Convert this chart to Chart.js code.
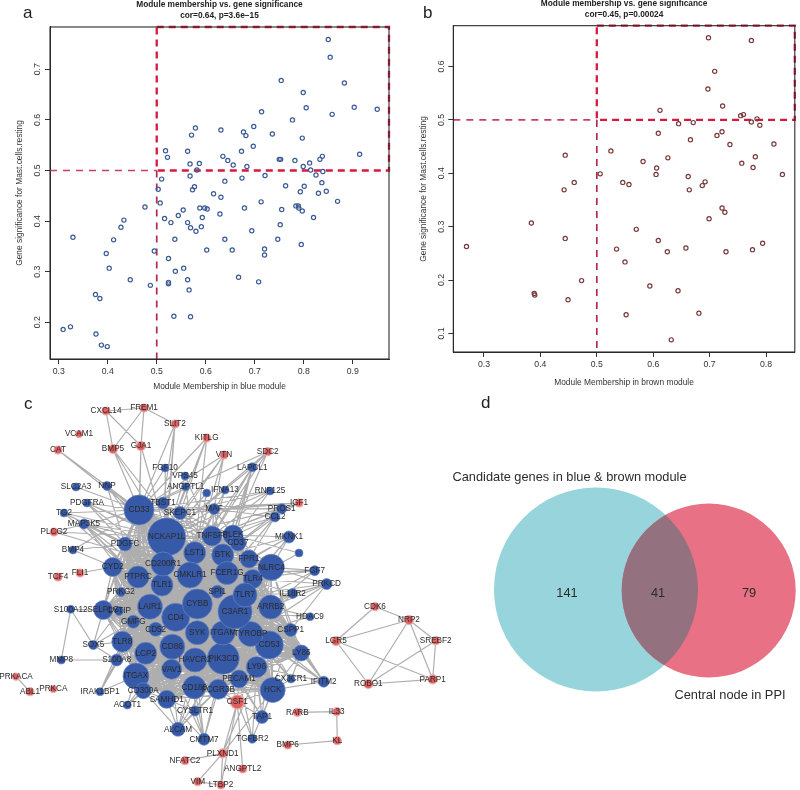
<!DOCTYPE html>
<html lang="en">

<head>
  <meta charset="UTF-8">
  <title>Module membership and PPI network</title>
  <script src="https://cdn.jsdelivr.net/npm/chart.js"></script>
  <style>
    html, body { margin: 0; padding: 0; background: #fff; overflow: hidden; }
    body { width: 800px; height: 790px; position: relative; font-family: "Liberation Sans", Arial, sans-serif; }
    canvas { position: absolute; }
    #chart-a { left: 0; top: 0; }
    #chart-b { left: 400px; top: -1px; }
    #chart-c { left: 0; top: 395px; }
    #chart-d { left: 450px; top: 390px; }
    .letter { position: absolute; font-size: 17px; line-height: 20px; color: #222; }
  </style>
</head>

<body>
  <canvas id="chart-d" width="350" height="340"></canvas>
  <canvas id="chart-c" width="470" height="395"></canvas>
  <canvas id="chart-a" width="400" height="395"></canvas>
  <canvas id="chart-b" width="400" height="396"></canvas>
  <span class="letter" style="left:23px;top:3px">a</span>
  <span class="letter" style="left:423px;top:3px">b</span>
  <span class="letter" style="left:24px;top:394px">c</span>
  <span class="letter" style="left:481px;top:393px">d</span>

  <script>
    // panel a: blue module
    const blueX = [.850,.854,.754,.883,.799,.903,.805,.950,.714,.858,.777,.698,.579,.631,.677,.571,.682,.736,.797,.697,
      .518,.563,.673,.522,.635,.645,.750,.753,.782,.838,.833,.914,.812,.568,.587,.656,.684,.799,.582,.814,
      .839,.568,.721,.825,.510,.674,.639,.837,.577,.763,.801,.573,.503,.793,.830,.846,.616,
      .631,.507,.476,.588,.598,.554,.603,.629,.679,.713,.869,.784,.789,.790,.797,.755,.544,.516,.529,.433,
      .563,.593,.591,.569,.580,.427,.820,.752,.694,.329,.412,.537,.639,.747,.795,.720,.720,.602,.654,.495,
      .397,.524,.555,.538,.403,.563,.667,.708,.446,.524,.524,.487,.566,.375,.384,.535,.569,.324,.309,.376,.387,.399];
    const blueY = [.759,.724,.678,.673,.654,.625,.624,.621,.616,.611,.600,.587,.584,.580,.576,.570,.569,.572,.564,.548,
      .539,.538,.538,.526,.528,.520,.522,.522,.520,.528,.522,.532,.515,.513,.514,.511,.508,.508,.501,.501,
      .498,.489,.490,.491,.483,.485,.479,.476,.468,.470,.469,.462,.463,.458,.455,.459,.454,
      .447,.436,.428,.426,.426,.422,.424,.414,.426,.438,.439,.430,.430,.426,.420,.423,.411,.405,.397,.402,
      .397,.407,.389,.387,.380,.388,.407,.393,.381,.368,.363,.364,.364,.364,.354,.345,.333,.343,.343,.341,
      .336,.326,.307,.301,.307,.284,.289,.280,.284,.279,.276,.273,.264,.255,.247,.212,.211,.191,.186,.177,.155,.152];
    const blueXLim = [.2822, .974];
    const blueYLim = [.1275, .7836];

    // panel b: brown module
    const brownX = [.698,.774,.709,.697,.723,.612,.755,.760,.784,.774,.789,.645,.671,.609,.722,.713,.666,.736,.814,.444,
      .525,.582,.626,.781,.757,.777,.606,.605,.506,.662,.829,.460,.546,.557,.692,.687,.442,.664,
      .722,.727,.699,.384,.570,.444,.609,.269,.535,.625,.658,.729,.776,.794,.550,.473,.594,.644,.389,.390,.449,.552,.681,.632];
    const brownY = [.654,.649,.591,.558,.526,.518,.508,.510,.502,.496,.490,.493,.495,.475,.478,.471,.463,.454,.455,.434,
      .442,.422,.429,.431,.419,.411,.410,.398,.399,.394,.398,.383,.383,.379,.384,.377,.369,.369,
      .335,.327,.315,.307,.295,.278,.274,.263,.258,.253,.260,.253,.257,.269,.234,.199,.189,.180,.175,.172,.163,.135,.138,.088];
    const brownXLim = [.2456, .851];
    const brownYLim = [.0652, .6766];

    const cutoff = 0.5;

    // panel c: PPI network, layout units follow the figure
    const blueNodes = [
      ['CD33',139,510,15],['NCKAP1L',166.7,537,19],['LST1',194.7,552.7,11],['CMKLR1',190,575,13],['TNFSF8',212,536,10],
      ['PLEK',233,535,10],['CD37',238,543,8],['BTK',222.7,555,11],['FPR1',249,559,9],['FCER1G',227,573,11.5],
      ['TLR4',252.7,579,9.5],['NLRC4',271.3,567.3,13],['TLR1',162,585,11],['CD200R1',163,564,12],['PTPRC',138,577,11],
      ['CYD2',112.7,567,9.5],['PDGFC',125,544,7],['TBST1',163,503,6],['SKEPC1',180,513,6.5],['MAF',214,509,5.5],
      ['FGF10',165,468,4],['VPS45',185,476,4],['ANGPTL1',185.7,486.7,4],['_a',206.7,493,4],['IFNA13',225,490,4],
      ['SLC2A3',76,487,4],['NNP',107,486,4.5],['PDGFRA',87,503,4],['TG2',64,513,4],['MAP3K5',84,524,5],
      ['BMP4',73,550,4],['PRKG2',121,592,4.5],['LAPCL1',252.3,467.3,4.5],['RNF125',270,491,4],['PROS1',281.7,508.7,5],
      ['CCL2',275,517,5],['MKNK1',289,537,6],['_b',299,553,4],['FGF7',314.7,570.7,5],['PRKCD',326.7,584,5.5],
      ['IL18R2',292.7,593.5,5],['HDAC9',310,616.7,4],['ARRB2',270.7,607,12],['CSPP1',290.7,630,6.5],['CD53',269.3,645,14],
      ['LY86',301.3,653,8],['LY96',256.7,667,10.5],['PECAM1',239,679,9],['HCK',272.7,690,12.5],['CX3CR1',291,679,4],
      ['IFITM2',323.7,681.7,5.5],['TAP1',262,717,6.5],['TGFBR2',252.3,738.7,4.5],['S100A12',70.7,609.3,4],['SELPLG',103.3,610,9.5],
      ['CYTIP',119,611,4.5],['LAIR1',150,606.7,12.5],['GMFG',133.3,621.7,6.5],['CD4',175.7,617.3,14],['CYBB',197.3,604,15],
      ['CD52',155.7,629.3,7],['SYK',197.3,632.7,12],['TLR8',122.3,641.7,10.5],['CD86',172.3,646.7,12.5],['LCP2',145.7,653.3,11],
      ['HAVCR2',195,660,12],['PIK3CD',223.3,658.3,16],['ITGAM',223,633,12],['TYROBP',250.7,634,12.5],['C3AR1',235,611.7,17],
      ['TLR7',245,595,12],['SPI1',217.3,591.7,6.5],['VAV1',171.7,669.3,10],['ITGAX',136,676,13],['CD300A',143.3,690.7,8],
      ['SAMHD1',166.7,699.3,9],['ALCAM',178,729.3,7],['CYSLTR1',195,711,5],['CMTM7',204,739.3,6],['CD180',194.3,687.3,11.5],
      ['FCGR3B',218.3,689.3,10],['ACOT1',127.3,705,4],['IRAK1BP1',100,691.7,4],['S100A8',116.7,660,6],['SOX5',93.3,645,4.5],
      ['MMP8',61.3,660,4]
    ];
    const redNodes = [
      ['CXCL14',106,411,4],['FREM1',144,408,4],['SLIT2',175,424,4],['KITLG',206.7,438,4],['VTN',224,455,4],
      ['VCAM1',79,434,3.5],['CAT',58,450,4],['BMP5',113,449,4.5],['GJA1',141,446,4.5],['SDC2',267.7,451.7,4],
      ['IGF1',299,503,4],['PLCG2',54,532,4],['TCF4',58,577,4],['FLI1',80,573,4],['CSF1',237.3,702,7],
      ['RARB',297.3,712.3,4],['IL33',336.7,711.7,4],['KL',337.3,740.7,4],['BMP6',287.7,745,4],['PLXND1',222.7,753.3,4.5],
      ['NFATC2',185,760.7,4],['VIM',197.7,781.7,4],['LTBP2',221,785,4],['ANGPTL2',242.7,769,4],['CDK6',375,606.7,4],
      ['NRP2',409,620,4.5],['SREBF2',435.7,640.7,4],['LGR5',336,641,4.5],['ROBO1',368.3,684,4.5],['PARP1',432.7,679.3,4.5],
      ['PRKACA',16,676.7,3.5],['ABL1',30,691.7,4],['PRKCA',53.3,689,3.5]
    ];
    // genes in the dense core, every pair is joined
    const coreGenes = ['NCKAP1L','LST1','CMKLR1','TNFSF8','BTK','FCER1G','CD200R1','TLR1','PTPRC','CD33','LAIR1','GMFG',
      'CD4','CYBB','CD52','SYK','TLR8','CD86','LCP2','HAVCR2','PIK3CD','ITGAM','TYROBP','C3AR1','TLR7','SPI1','VAV1',
      'ITGAX','CD300A','SAMHD1','CD180','FCGR3B','LY96','PECAM1','HCK','CD53','ARRB2','NLRC4','FPR1','TLR4','PLEK',
      'PDGFC','CYD2','SELPLG','CYTIP','LY86','CSPP1'];
    // first gene of each row links to the others in the row
    const geneLinks = [
      ['CXCL14','FREM1','BMP5','GJA1'],['FREM1','BMP5','GJA1','SLIT2'],['BMP5','CD33','NCKAP1L','LST1'],['GJA1','CD33','NCKAP1L','PTPRC'],
      ['CAT','NCKAP1L','CD33'],['SLIT2','CD33','TBST1','NCKAP1L','CD200R1'],['KITLG','CD33','NCKAP1L','SKEPC1','LST1'],
      ['VTN','CD33','NCKAP1L','SKEPC1','MAF','LST1'],['SDC2','LAPCL1','CD33','BTK','TNFSF8','NCKAP1L'],
      ['LAPCL1','TNFSF8','BTK','LST1','PLEK','FCER1G','NCKAP1L'],['FGF10','CD33','NCKAP1L'],['VPS45','NCKAP1L','TNFSF8'],
      ['ANGPTL1','NCKAP1L','LST1','CD33'],['IFNA13','LST1','TNFSF8'],['_a','NCKAP1L','LST1'],
      ['RNF125','TNFSF8','CD33','SKEPC1','BTK','NCKAP1L'],['IGF1','PROS1','CCL2','TNFSF8','CD33','MAF','SKEPC1'],
      ['PROS1','CCL2','MAF','TNFSF8','BTK','CD33','NCKAP1L'],['CCL2','BTK','FPR1','TNFSF8','LST1','FCER1G','MAF'],
      ['MKNK1','FPR1','TLR4','NLRC4','BTK','PLEK','FCER1G'],['_b','PLEK','TLR4'],['FGF7','NLRC4','TLR4','FCER1G','ARRB2','C3AR1'],
      ['PRKCD','NLRC4','ARRB2','IL18R2','TLR4','C3AR1','TLR7','CSPP1','TYROBP'],['IL18R2','ARRB2','C3AR1','TLR7','TYROBP','FCER1G'],
      ['HDAC9','ARRB2','C3AR1','TYROBP'],['IFITM2','LY86','CD53','TYROBP','ARRB2','CSPP1','C3AR1','HCK','LY96'],
      ['CX3CR1','LY86','CD53','HCK','C3AR1','TYROBP'],['TAP1','CD53','LY96','PIK3CD','HCK','PECAM1','TYROBP'],
      ['CSF1','TAP1','TGFBR2','ANGPTL2','PLXND1','LTBP2','PECAM1','HCK','PIK3CD','LY96','FCGR3B','CD180'],
      ['TGFBR2','PECAM1','LY96','HCK'],['PLXND1','NFATC2','VIM','LTBP2','HCK','CD53'],['VIM','LTBP2'],
      ['CD33','SKEPC1','TBST1','MAP3K5','PDGFRA','NNP','SLC2A3','TG2','BMP4','PLCG2'],['NNP','NCKAP1L','PDGFC','LST1','CD200R1','CMKLR1'],
      ['PDGFRA','NCKAP1L','PDGFC','CD200R1','LST1'],['TG2','NCKAP1L','PTPRC','CMKLR1','CD200R1'],
      ['MAP3K5','NCKAP1L','PDGFC','PTPRC','CMKLR1','TLR1','LAIR1','CD4','CD200R1','LST1','SPI1'],['PLCG2','NCKAP1L','CD200R1'],
      ['BMP4','PDGFC','PTPRC'],['FLI1','CYD2'],['PRKG2','PTPRC','TLR1','LAIR1','CYD2','GMFG','CD4','CD200R1'],
      ['S100A12','MMP8','SELPLG','SOX5'],['SOX5','SELPLG','S100A8','TLR8','CYTIP','GMFG'],['MMP8','S100A8'],
      ['S100A8','IRAK1BP1','TLR8','LCP2','GMFG','CD4','CD86','LAIR1','CD52'],['IRAK1BP1','TLR8','ITGAX','LAIR1'],
      ['SELPLG','TLR8','GMFG','CD52','CD4','CD86','LCP2'],['ACOT1','CD300A','ITGAX','VAV1','CD86'],
      ['ALCAM','SAMHD1','CYSLTR1','CD180','FCGR3B','HAVCR2','VAV1','PIK3CD','CD300A'],['CYSLTR1','CD180','FCGR3B','SAMHD1','PIK3CD','HAVCR2'],
      ['CMTM7','CYSLTR1','SAMHD1','CD180','FCGR3B','HAVCR2','PIK3CD','VAV1'],['TBST1','NCKAP1L','LST1','CMKLR1','BTK','SKEPC1'],
      ['SKEPC1','NCKAP1L','LST1','TNFSF8','BTK','PLEK','CMKLR1'],['MAF','TNFSF8','BTK','PLEK','NCKAP1L','LST1','FPR1','FCER1G'],
      ['CDK6','NRP2','LGR5'],['NRP2','LGR5','SREBF2','ROBO1','PARP1'],['SREBF2','ROBO1','PARP1'],['LGR5','ROBO1','PARP1'],['ROBO1','PARP1'],
      ['RARB','IL33'],['IL33','KL'],['KL','BMP6'],['PRKACA','ABL1']
    ];

    // panel d: Venn
    const vennSets = [{ x: 596, y: 589.5, r: 102 }, { x: 708.7, y: 590.5, r: 87 }];
    const vennTexts = ['Candidate genes in blue & brown module', 'Central node in PPI', '141', '41', '79'];
    const vennTextX = [569.5, 730, 567, 658, 749];
    const vennTextY = [477.5, 695.5, 593, 593, 593];

    Chart.defaults.font.family = '"Liberation Sans", Arial, sans-serif';
    Chart.defaults.animation = false;
    Chart.defaults.events = [];
    Chart.defaults.plugins.legend.display = false;
    Chart.defaults.plugins.tooltip.enabled = false;

    const toPoints = (xs, ys) => xs.map((x, i) => ({ x: x, y: ys[i] }));

    // plot box like base R graphics
    const plotBox = {
      id: 'plotBox',
      afterDraw(chart) {
        const a = chart.chartArea, ctx = chart.ctx;
        ctx.save();
        ctx.strokeStyle = '#2a2a2a';
        ctx.lineWidth = 1.1;
        ctx.strokeRect(a.left, a.top, a.right - a.left, a.bottom - a.top);
        ctx.restore();
      }
    };

    function dashLine(points, width, color, dash) {
      return { type: 'scatter', data: points, showLine: true, pointRadius: 0, borderColor: color, borderWidth: width, borderDash: dash, clip: false, order: 2 };
    }

    function moduleChart(id, cfg) {
      const [x0, x1] = cfg.xLim, [y0, y1] = cfg.yLim;
      const tickFont = { size: 8.7 };
      new Chart(document.getElementById(id), {
        type: 'scatter',
        data: {
          datasets: [
            { data: toPoints(cfg.xs, cfg.ys), pointRadius: 2.1, borderWidth: 1.2, pointBorderColor: cfg.color, pointBackgroundColor: 'rgba(255,255,255,0)', order: 1 },
            dashLine([{ x: cutoff, y: y1 }, { x: x1, y: y1 }, { x: x1, y: cutoff }, { x: cutoff, y: cutoff }, { x: cutoff, y: y1 }], 2.3, '#d8193f', [7, 5]),
            dashLine([{ x: x0, y: cutoff }, { x: cutoff, y: cutoff }], 1.7, '#c93f62', [7, 6]),
            dashLine([{ x: cutoff, y: cutoff }, { x: cutoff, y: y0 }], 1.7, '#b02a4f', [7, 6])
          ]
        },
        options: {
          responsive: false,
          layout: { padding: { top: 0, right: cfg.padRight, left: 0, bottom: 0 } },
          plugins: {
            title: {
              display: true, fullSize: false, text: cfg.title, color: '#222',
              font: { size: 8.3, weight: 'bold', lineHeight: 1.24 },
              padding: { top: 0, bottom: cfg.titleGap }
            }
          },
          scales: {
            x: {
              type: 'linear', min: x0, max: x1,
              afterFit(s) { s.height = cfg.xAxisH; },
              grid: { drawOnChartArea: false, tickLength: 5, color: '#333' },
              border: { color: '#2a2a2a' },
              ticks: { stepSize: 0.1, includeBounds: false, padding: 2, color: '#333', font: tickFont, maxRotation: 0, callback: v => v.toFixed(1) },
              title: { display: true, text: cfg.xTitle, color: '#333', font: { size: 8.4 }, padding: { top: 0, bottom: cfg.xTitlePad } }
            },
            y: {
              type: 'linear', min: y0, max: y1,
              afterFit(s) { s.width = cfg.yAxisW; },
              grid: { drawOnChartArea: false, tickLength: 5, color: '#333' },
              border: { color: '#2a2a2a' },
              ticks: { stepSize: 0.1, includeBounds: false, padding: 1, color: '#333', font: tickFont, minRotation: 90, maxRotation: 90, crossAlign: 'center', callback: v => v.toFixed(1) },
              title: { display: true, text: 'Gene significance for Mast.cells.resting', color: '#333', font: { size: 8.4 }, padding: { top: cfg.yTitlePad, bottom: 0 } }
            }
          }
        },
        plugins: [plotBox]
      });
    }

    moduleChart('chart-a', {
      xs: blueX, ys: blueY, xLim: blueXLim, yLim: blueYLim, color: '#3a5a94',
      title: ['Module membership vs. gene significance', 'cor=0.64, p=3.6e\u221215'],
      xTitle: 'Module Membership in blue module',
      padRight: 11, titleGap: 6.4, xAxisH: 36, yAxisW: 50, xTitlePad: 3, yTitlePad: 15
    });
    moduleChart('chart-b', {
      xs: brownX, ys: brownY, xLim: brownXLim, yLim: brownYLim, color: '#783a3a',
      title: ['Module membership vs. gene significance', 'cor=0.45, p=0.00024'],
      xTitle: 'Module Membership in brown module',
      padRight: 2, titleGap: 6.1, xAxisH: 43, yAxisW: 53.3, xTitlePad: 7, yTitlePad: 19
    });

    // network edges go through one line dataset, NaN breaks the path
    const nodeByName = {};
    blueNodes.concat(redNodes).forEach(n => { nodeByName[n[0]] = { x: n[1], y: n[2] }; });
    const edgePoints = [];
    function addEdge(a, b) {
      edgePoints.push(nodeByName[a], nodeByName[b], { x: NaN, y: NaN });
    }
    coreGenes.forEach((a, i) => coreGenes.slice(i + 1).forEach(b => addEdge(a, b)));
    geneLinks.forEach(row => row.slice(1).forEach(b => addEdge(row[0], b)));

    const toBubbles = rows => rows.map(n => ({ x: n[1], y: n[2], r: n[3], name: n[0] }));

    const nodeNames = {
      id: 'nodeNames',
      afterDatasetsDraw(chart) {
        const ctx = chart.ctx;
        ctx.save();
        ctx.font = '8.2px "Liberation Sans", Arial, sans-serif';
        ctx.fillStyle = '#2b2b2b';
        ctx.textAlign = 'center';
        ctx.textBaseline = 'middle';
        chart.data.datasets.forEach(ds => {
          if (ds.type !== 'bubble') return;
          ds.data.forEach(p => {
            if (p.name[0] === '_') return;
            ctx.fillText(p.name, chart.scales.x.getPixelForValue(p.x), chart.scales.y.getPixelForValue(p.y));
          });
        });
        ctx.restore();
      }
    };

    new Chart(document.getElementById('chart-c'), {
      data: {
        datasets: [
          { type: 'line', data: edgePoints, borderColor: '#aeaeae', borderWidth: 1.2, pointRadius: 0, spanGaps: false, clip: false, order: 3 },
          { type: 'bubble', data: toBubbles(redNodes), backgroundColor: '#e0605f', borderColor: '#f2aaa8', borderWidth: 1.2, clip: false, order: 2 },
          { type: 'bubble', data: toBubbles(blueNodes), backgroundColor: '#3659a8', borderColor: '#6786c6', borderWidth: 0.7, clip: false, order: 1 }
        ]
      },
      options: {
        responsive: false,
        layout: { autoPadding: false },
        scales: {
          x: { type: 'linear', min: 0, max: 470, display: false },
          y: { type: 'linear', min: 395, max: 790, reverse: true, display: false }
        }
      },
      plugins: [nodeNames]
    });

    // overlap of the two sets: second circle again, clipped to the first
    const vennOverlap = {
      id: 'vennOverlap',
      beforeDatasetDraw(chart, args) {
        if (args.index !== 2) return;
        const c = chart.getDatasetMeta(0).data[0];
        chart.ctx.save();
        chart.ctx.beginPath();
        chart.ctx.arc(c.x, c.y, vennSets[0].r, 0, Math.PI * 2);
        chart.ctx.clip();
      },
      afterDatasetDraw(chart, args) {
        if (args.index === 2) chart.ctx.restore();
      },
      afterDatasetsDraw(chart) {
        const ctx = chart.ctx;
        ctx.save();
        ctx.fillStyle = '#2b2b2b';
        ctx.textAlign = 'center';
        ctx.textBaseline = 'middle';
        ctx.font = '12.8px "Liberation Sans", Arial, sans-serif';
        vennTexts.forEach((t, i) => {
          ctx.fillText(t, chart.scales.x.getPixelForValue(vennTextX[i]), chart.scales.y.getPixelForValue(vennTextY[i]));
        });
        ctx.restore();
      }
    };

    new Chart(document.getElementById('chart-d'), {
      type: 'bubble',
      data: {
        datasets: [
          { data: [vennSets[0]], backgroundColor: '#97d4dc', borderWidth: 0, clip: false, order: 3 },
          { data: [vennSets[1]], backgroundColor: '#e87186', borderWidth: 0, clip: false, order: 2 },
          { data: [vennSets[1]], backgroundColor: '#94717e', borderWidth: 0, clip: false, order: 1 }
        ]
      },
      options: {
        responsive: false,
        layout: { autoPadding: false },
        scales: {
          x: { type: 'linear', min: 450, max: 800, display: false },
          y: { type: 'linear', min: 390, max: 730, reverse: true, display: false }
        }
      },
      plugins: [vennOverlap]
    });
  </script>
</body>

</html>
